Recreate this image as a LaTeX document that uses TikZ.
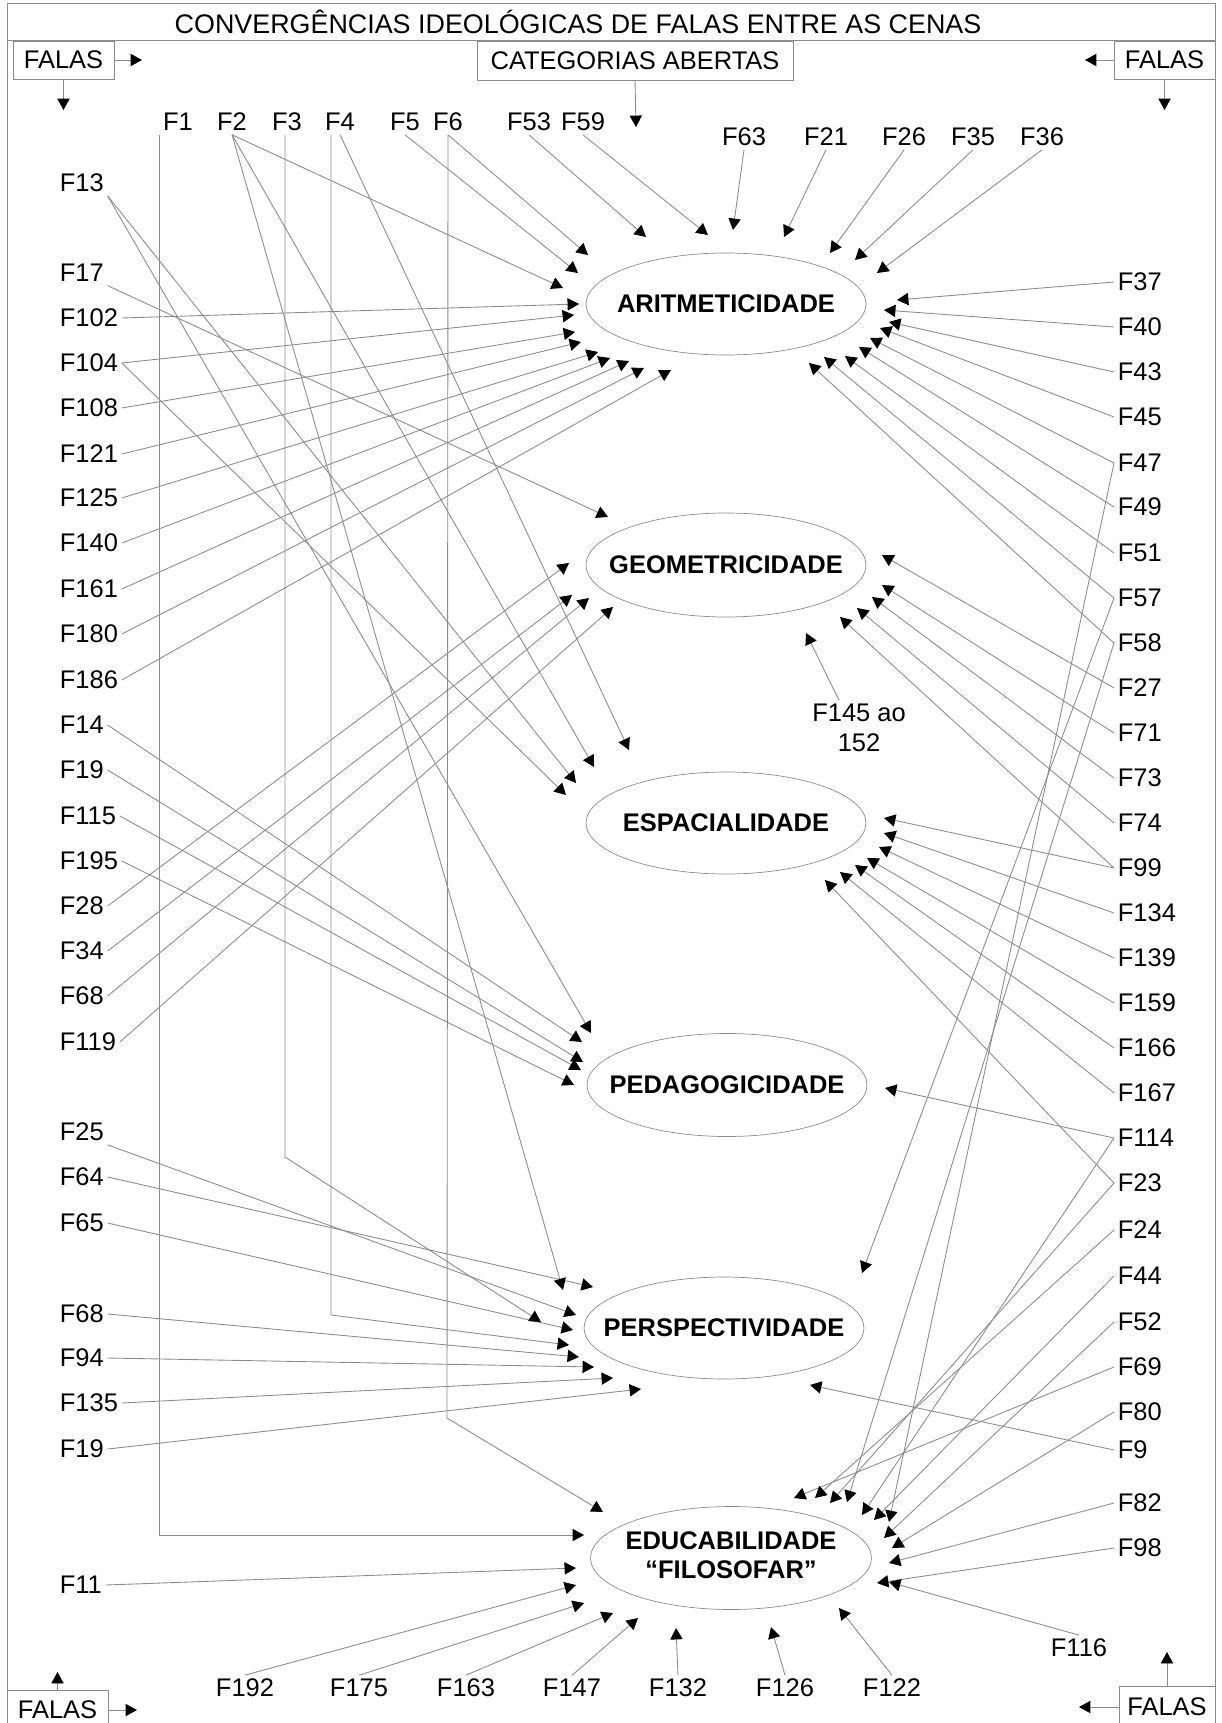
\documentclass[tikz,border=0pt]{standalone}
\usepackage{fontspec}
\setmainfont{Liberation Sans}
\usetikzlibrary{shapes.geometric, arrows.meta}

\tikzset{
  lbl/.style={inner sep=2pt, font=\fontsize{14.5}{17}\selectfont},
  cat/.style={draw=black!45, ellipse, inner sep=0pt, minimum width=5.6cm, minimum height=2.04cm,
    font=\fontsize{14.5}{17}\selectfont\bfseries},
  caixa/.style={draw=black!45, inner sep=0pt, font=\fontsize{14.5}{17}\selectfont},
  seta/.style={draw=black!45, line width=0.5pt, -{Triangle[length=6.5pt,width=7pt,color=black]}},
}

\begin{document}
\begin{tikzpicture}[x=0.02cm, y=-0.02cm]
\useasboundingbox (0,0) rectangle (1222,1723);
\draw[black!45] (7,3) rectangle (1215,1740);
\draw[black!45] (7,40) -- (1215,40);
\node[lbl, font=\fontsize{15.3}{18}\selectfont] (titulo) at (578,22)
  {CONVERGÊNCIAS IDEOLÓGICAS DE FALAS ENTRE AS CENAS};

\node[caixa, minimum width=2.02cm, minimum height=0.76cm] (falas1) at (63.5,60) {FALAS};
\node[caixa, minimum width=6.32cm, minimum height=0.78cm] (catab) at (635,60.5) {CATEGORIAS ABERTAS};
\node[caixa, minimum width=2.02cm, minimum height=0.76cm] (falas2) at (1164.5,60) {FALAS};
\node[caixa, minimum width=2.02cm, minimum height=0.8cm] (falas3) at (57.5,1710) {FALAS};
\node[caixa, minimum width=1.92cm, minimum height=0.84cm] (falas4) at (1167,1707) {FALAS};

\coordinate (s1) at (142,60);
\coordinate (s2) at (63.5,110);
\coordinate (s3) at (1085,60);
\coordinate (s4) at (1164.5,110);
\coordinate (s5) at (636,127);
\coordinate (s6) at (57.5,1672);
\coordinate (s7) at (137,1710);
\coordinate (s8) at (1167,1652);
\coordinate (s9) at (1079,1707);
\draw[seta] (falas1.east) -- (s1);
\draw[seta] (falas1.south) -- (s2);
\draw[seta] (falas2.west) -- (s3);
\draw[seta] (falas2.south) -- (s4);
\draw[seta] (catab.south) -- (s5);
\draw[seta] (falas3.north) -- (s6);
\draw[seta] (falas3.east) -- (s7);
\draw[seta] (falas4.north) -- (s8);
\draw[seta] (falas4.west) -- (s9);

% categorias
\node[cat] (arit) at (726,304) {\makebox[0pt]{ARITMETICIDADE}};
\node[cat, minimum height=2.08cm] (geom) at (726,565) {\makebox[0pt]{GEOMETRICIDADE}};
\node[cat] (espa) at (726,823) {\makebox[0pt]{ESPACIALIDADE}};
\node[cat, minimum height=2.06cm] (peda) at (727,1085) {\makebox[0pt]{PEDAGOGICIDADE}};
\node[cat] (pers) at (724,1328) {\makebox[0pt]{PERSPECTIVIDADE}};
\node[cat, minimum width=5.62cm, minimum height=2.06cm] (educ) at (731,1558)
  {\makebox[0pt]{\begin{tabular}{@{}c@{}}EDUCABILIDADE\\“FILOSOFAR”\end{tabular}}};

% falas
\foreach \n/\t/\y in {f13/F13/183, f17/F17/273, f102/F102/318, f104/F104/363, f108/F108/408,
  f121/F121/454, f125/F125/498, f140/F140/543, f161/F161/589, f180/F180/634, f186/F186/680,
  f14/F14/725, f19a/F19/770, f115/F115/816, f195/F195/861, f28/F28/906, f34/F34/951,
  f68a/F68/996, f119/F119/1042, f25/F25/1132, f64/F64/1177, f65/F65/1223, f68b/F68/1314,
  f94/F94/1358, f135/F135/1403, f19b/F19/1449, f11/F11/1585}
  \node[lbl, anchor=west] (\n) at (56,\y) {\t};
\foreach \n/\t/\y in {f37/F37/282, f40/F40/327, f43/F43/372, f45/F45/417, f47/F47/463,
  f49/F49/507, f51/F51/553, f57/F57/598, f58/F58/643, f27/F27/688, f71/F71/733, f73/F73/778,
  f74/F74/823, f99/F99/868, f134/F134/913, f139/F139/958, f159/F159/1003, f166/F166/1048,
  f167/F167/1093, f114/F114/1138, f23/F23/1183, f24/F24/1230, f44/F44/1276, f52/F52/1322,
  f69/F69/1367, f80/F80/1412, f9/F9/1450, f82/F82/1503, f98/F98/1548}
  \node[lbl, anchor=west] (\n) at (1114,\y) {\t};
\foreach \n/\t/\x in {f1/F1/178, f2/F2/232, f3/F3/287, f4/F4/340, f5/F5/405, f6/F6/448,
  f53/F53/529, f59/F59/583}
  \node[lbl] (\n) at (\x,122) {\t};
\foreach \n/\t/\x in {f63/F63/744, f21/F21/826, f26/F26/904, f35/F35/973, f36/F36/1042}
  \node[lbl] (\n) at (\x,137) {\t};
\foreach \n/\t/\x in {f192/F192/245, f175/F175/359, f163/F163/466, f147/F147/572,
  f132/F132/678, f126/F126/785, f122/F122/892}
  \node[lbl] (\n) at (\x,1688) {\t};
\node[lbl] (f116) at (1079,1648) {F116};
\node[lbl, align=center] (f145) at (859,728) {F145 ao\\152};

% pontas
\foreach \n/\x/\y in {a1/588/255, a2/578/273, a3/563/288, a4/579/304, a5/574/315, a6/575/332,
  a7/581/342, a8/598/352, a9/610/358, a10/629/361, a11/644/368, a12/671/370, a13/646/237,
  a14/708/235, a15/733/230, a16/784/237, a17/830/253, a18/855/260, a19/877/273, a20/897/300,
  a21/884/310, a22/889/322, a23/880/328, a24/870/338, a25/859/347, a26/845/356, a27/824/357,
  a28/809/363,
  g1/608/517, g2/569/563, g3/572/595, g4/589/598, g5/613/607, g6/882/555, g7/882/585,
  g8/872/597, g9/857/608, g10/840/617, g11/806/633,
  e1/629/750, e2/594/767, e3/576/783, e4/566/795, e5/884/818, e6/884/833, e7/879/847,
  e8/867/858, e9/855/865, e10/840/872, e11/825/880,
  d1/591/1033, d2/582/1042, d3/583/1062, d4/581/1070, d5/574/1085, d6/885/1088,
  p1/563/1290, p2/593/1287, p3/541/1322, p4/576/1315, p5/573/1330, p6/569/1345, p7/579/1357,
  p8/594/1367, p9/613/1378, p10/641/1389, p11/862/1273, p12/810/1385,
  u1/603/1512, u2/584/1535, u3/576/1568, u4/576/1585, u5/584/1603, u6/613/1613, u7/638/1618,
  u8/676/1628, u9/771/1627, u10/839/1608, u11/794/1498, u12/815/1498, u13/830/1503,
  u14/847/1502, u15/862/1515, u16/874/1520, u17/889/1522, u18/884/1538, u19/892/1548,
  u20/889/1563, u21/877/1583, u22/889/1582,
  k3/285/1157, k4/331/1315, k6/447/1418}
  \coordinate (\n) at (\x,\y);

% ligacoes
\foreach \s/\t in {f102/a4, f104/a5, f108/a6, f121/a7, f125/a8, f140/a9, f161/a10, f180/a11,
  f186/a12, f104/e4, f14/d2, f19a/d3, f115/d4, f195/d5, f28/g2, f34/g3, f68a/g4, f119/g5,
  f64/p2, f65/p5, f68b/p7, f94/p8, f135/p9, f19b/p10, f11/u3}
  \draw[seta] (\s.east) -- (\t);
\foreach \s/\t in {f13/e3, f13/d1, f17/g1, f25/p4}
  \draw[seta] (\s.south east) -- (\t);
\foreach \s/\t in {f2/a3, f2/e2, f2/p1, f4/e1, f5/a2, f6/a1, f53/a13, f59/a14, f63/a15,
  f21/a16, f26/a17, f35/a18, f36/a19}
  \draw[seta] (\s.south) -- (\t);
\foreach \s/\t in {f37/a20, f40/a21, f43/a22, f45/a23, f47/a24, f49/a25, f51/a26, f57/a27,
  f58/a28, f27/g6, f71/g7, f73/g8, f74/g9, f99/g10, f99/e5, f134/e6, f139/e7, f159/e8,
  f166/e9, f167/e10, f23/e11, f114/d6, f57/p11, f9/p12, f47/u17, f58/u14, f69/u11, f24/u12,
  f23/u13, f114/u15, f44/u16, f52/u18, f80/u19, f82/u20, f98/u21}
  \draw[seta] (\s.west) -- (\t);
\foreach \s/\t in {f192/u4, f175/u5, f163/u6, f147/u7, f132/u8, f126/u9, f122/u10, f116/u22}
  \draw[seta] (\s.north) -- (\t);
\draw[seta] (f145.north) ++(-20,0) -- (g11);
\draw[seta] (f1.south west) |- (u2);
\draw[seta] (f3.south) ++(-2,0) -- (k3) -- (p3);
\draw[seta] (f4.south) ++(-9,0) -- (k4) -- (p6);
\draw[seta] (f6.south) -- (k6) -- (u1);
\end{tikzpicture}
\end{document}
